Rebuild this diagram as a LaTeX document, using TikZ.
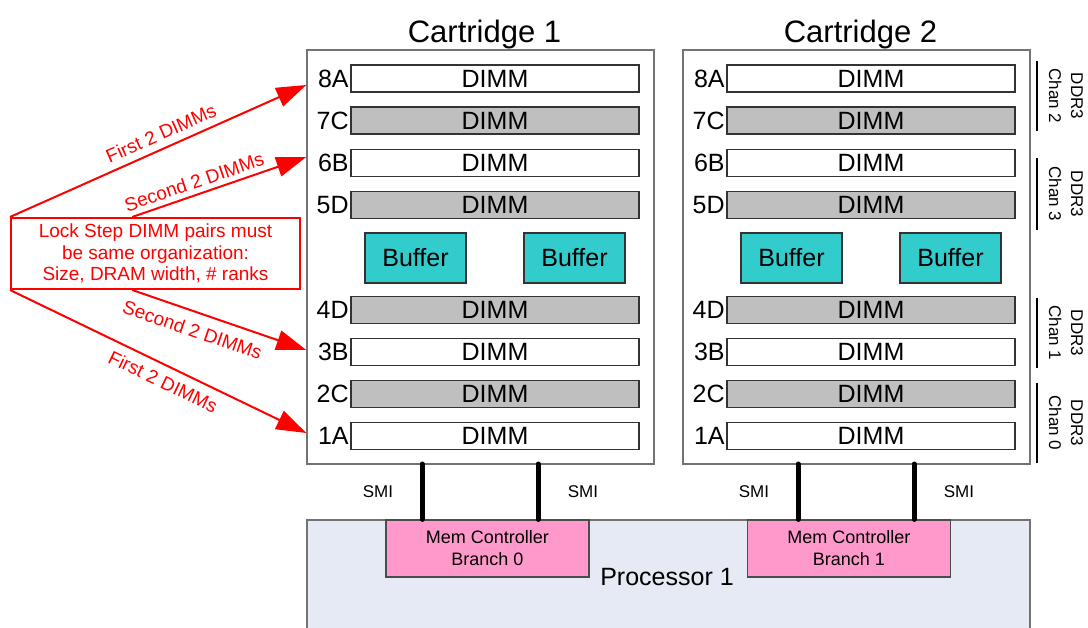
\documentclass[tikz,border=0pt]{standalone}
\usepackage{fontspec}
\setmainfont{Liberation Sans}
\usetikzlibrary{arrows.meta,positioning,calc}

\begin{document}
\begin{tikzpicture}[x=1pt,y=-1pt]
  % Colors
  \colorlet{dimmgray}{black!25}
  \definecolor{buffercolor}{HTML}{33CCCC}
  \definecolor{mccolor}{HTML}{FF99CC}
  \definecolor{proccolor}{HTML}{E6EAF4}
  \colorlet{notecolor}{red}

  % Styles
  \tikzstyle{cartridge}=[draw=black!55,line width=1.3pt,minimum width=347pt,minimum height=414pt,inner sep=0pt]
  \tikzstyle{cartridge title}=[inner sep=0pt,font=\fontsize{31}{36}\selectfont]
  \tikzstyle{dimm}=[draw=black!80,line width=1.4pt,minimum width=288pt,minimum height=27pt,inner sep=0pt,font=\fontsize{25}{27}\selectfont]
  \tikzstyle{slot label}=[inner sep=0pt,font=\fontsize{25}{27}\selectfont]
  \tikzstyle{buffer}=[draw=black!80,fill=buffercolor,line width=1.4pt,minimum width=101pt,minimum height=50pt,inner sep=0pt,font=\fontsize{25}{27}\selectfont]
  \tikzstyle{chan bar}=[line width=2pt]
  \tikzstyle{chan label}=[rotate=-90,align=center,inner sep=0pt,font=\fontsize{17}{22}\selectfont]
  \tikzstyle{note box}=[draw=notecolor,text=notecolor,line width=2pt,minimum width=289pt,minimum height=71pt,inner sep=0pt,align=center,font=\fontsize{19}{21.5}\selectfont]
  \tikzstyle{note arrow}=[draw=notecolor,line width=2pt,-{Triangle[length=30pt,width=20pt]}]
  \tikzstyle{arrow text}=[text=notecolor,sloped,inner sep=0pt,font=\fontsize{19}{21}\selectfont]
  \tikzstyle{processor}=[draw=black!55,fill=proccolor,line width=1.3pt]
  \tikzstyle{controller}=[draw=black!70,fill=mccolor,line width=1.2pt,minimum width=203pt,minimum height=57pt,inner sep=0pt,align=center,font=\fontsize{18}{22}\selectfont]
  \tikzstyle{smi line}=[line width=5pt,line cap=round]
  \tikzstyle{smi text}=[inner sep=0pt,font=\fontsize{17}{20}\selectfont]

  \useasboundingbox (0,0) rectangle (1088,628);

  % Processor and memory controllers
  \draw[processor] (307,520) rectangle (1030,660);
  \node[font=\fontsize{25}{30}\selectfont] (proc) at (667,577) {Processor 1};
  \node[controller] (mc0) at (487.5,548.5) {Mem Controller\\Branch 0};
  \node[controller] (mc1) at (849,548.5) {Mem Controller\\Branch 1};

  % Cartridges
  \foreach \c/\m/\dx in {1/0/0,2/1/376} {
    \node[cartridge] (cart\c) at (480.5+\dx,257) {};
    \node[cartridge title,above=0.5pt of cart\c,xshift=4pt] (title\c) {Cartridge \c};

    \foreach \slot/\ypos/\shade in {8A/78.5/white,7C/120.5/dimmgray,6B/163/white,5D/205/dimmgray,4D/310/dimmgray,3B/352/white,2C/394/dimmgray,1A/436/white} {
      \node[dimm,fill=\shade] (dimm\c-\slot) at (495+\dx,\ypos) {DIMM};
      \node[slot label,left=1.5pt of dimm\c-\slot] (slot\c-\slot) {\slot};
    }

    \node[buffer] (buf\c-l) at (415.5+\dx,258) {Buffer};
    \node[buffer] (buf\c-r) at (574.5+\dx,258) {Buffer};

    % SMI links
    \coordinate (smi\c-l) at (422+\dx,464);
    \coordinate (smi\c-r) at (538+\dx,464);
    \draw[smi line] (smi\c-l) -- (smi\c-l |- mc\m.north);
    \draw[smi line] (smi\c-r) -- (smi\c-r |- mc\m.north);
    \node[smi text] (smitext\c-l) at (378+\dx,492) {SMI};
    \node[smi text] (smitext\c-r) at (583+\dx,492) {SMI};
  }

  % DDR3 channels
  \foreach \chan/\ytop/\ybot in {2/61/131,3/158/230,1/298/368,0/383/463} {
    \draw[chan bar] (1037,\ytop) -- (1037,\ybot);
    \node[chan label] (chan\chan) at (1066,{(\ytop+\ybot)/2}) {DDR3\\Chan \chan};
  }

  % Lock step note
  \node[note box] (lock) at (155.5,253.5) {Lock Step DIMM pairs must\\be same organization:\\Size, DRAM width, \# ranks};
  \coordinate (lock-n) at ($(lock.north west)!0.42!(lock.north east)$);
  \coordinate (lock-s) at ($(lock.south west)!0.42!(lock.south east)$);
  \coordinate (tip8A) at (cart1.west |- 0,85);
  \coordinate (tip6B) at (cart1.west |- 0,157);
  \coordinate (tip3B) at (cart1.west |- 0,350);
  \coordinate (tip1A) at (cart1.west |- 0,433);

  \draw[note arrow] (lock.north west) -- node[arrow text,above=7pt,pos=0.53] {First 2 DIMMs} (tip8A);
  \draw[note arrow] (lock-n) -- node[arrow text,above=5pt,pos=0.38] {Second 2 DIMMs} (tip6B);
  \draw[note arrow] (lock-s) -- node[arrow text,below=10pt,pos=0.38] {Second 2 DIMMs} (tip3B);
  \draw[note arrow] (lock.south west) -- node[arrow text,below=8pt,pos=0.54] {First 2 DIMMs} (tip1A);
\end{tikzpicture}
\end{document}
